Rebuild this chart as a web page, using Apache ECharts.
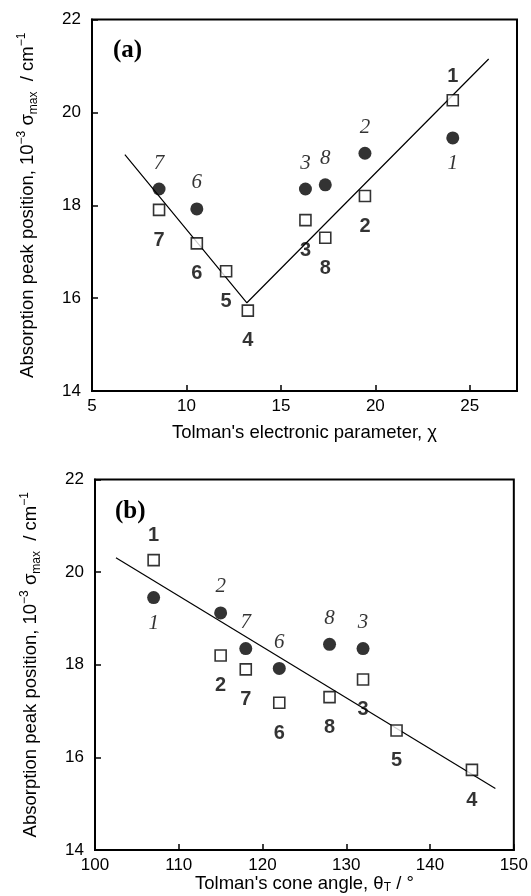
<!DOCTYPE html>
<html>
<head>
<meta charset="utf-8">
<script src="https://cdn.jsdelivr.net/npm/echarts@6/dist/echarts.min.js"></script>
<style>
    html, body {margin: 0; padding: 0; background: #fff;}
    #chart {width: 531px; height: 896px;}
</style>
</head>
<body>
<div id="chart"></div>
<script>
// complex numbers 1..8
var ids = ['1', '2', '3', '4', '5', '6', '7', '8'];
// Tolman's electronic parameter (chi) and cone angle (deg)
var chi = [24.1, 19.45, 16.3, 13.25, 12.1, 10.55, 8.55, 17.35];
var cone = [107, 115, 132, 145, 136, 122, 118, 128];
// absorption peak positions, 10^-3 sigma_max / cm-1
var squareY = [20.26, 18.2, 17.68, 15.73, 16.58, 17.18, 17.9, 17.3];
var circleY = [19.45, 19.12, 18.35, null, null, 17.92, 18.35, 18.44];
// fitted lines
var fitA = [[6.74, 19.09], [13.2, 15.9], [26.0, 21.15]];
var fitB = [[102.5, 20.31], [147.8, 15.33]];

var sans = 'Liberation Sans';
var serif = 'Liberation Serif';

// compound 1 has its labels flipped (square above, circle below)
function points(xs, ys, flipped) {
    var out = [];
    for (var i = 0; i < ids.length; i++) {
        if (ys[i] === null) continue;
        var item = {name: ids[i], value: [xs[i], ys[i]]};
        if (ids[i] === '1') item.label = flipped;
        out.push(item);
    }
    return out;
}

var yName = 'Absorption peak position, 10{sup|\u22123} \u03c3{sub|max}  / cm{sup|\u22121}';
var nameRich = {
    sup: {fontSize: 12, fontFamily: sans, color: '#000', verticalAlign: 'top', lineHeight: 12},
    sub: {fontSize: 12, fontFamily: sans, color: '#000', verticalAlign: 'bottom', lineHeight: 12}
};

function yAxis(idx) {
    return {
        type: 'value', gridIndex: idx, min: 14, max: 22, interval: 2,
        name: yName, nameLocation: 'middle', nameGap: 52, nameRotate: 90,
        nameTextStyle: {fontFamily: sans, fontSize: 18.5, color: '#000', lineHeight: 24, rich: nameRich},
        axisLine: {show: true, lineStyle: {color: '#000', width: 2}},
        axisTick: {inside: true, length: 6, lineStyle: {color: '#000', width: 1.5}},
        axisLabel: {fontFamily: sans, fontSize: 17, color: '#000', margin: 11},
        splitLine: {show: false}
    };
}

function xAxis(idx, min, max, interval, name, gap) {
    return {
        type: 'value', gridIndex: idx, min: min, max: max, interval: interval,
        name: name, nameLocation: 'middle', nameGap: gap,
        nameTextStyle: {fontFamily: sans, fontSize: 18.5, color: '#000', rich: nameRich},
        axisLine: {show: true, lineStyle: {color: '#000', width: 2}},
        axisTick: {inside: true, length: 6, lineStyle: {color: '#000', width: 1.5}},
        axisLabel: {
            fontFamily: sans, fontSize: 17, color: '#000', margin: 7,
            formatter: function (v) { return v % interval === 0 ? v : ''; }
        },
        splitLine: {show: false}
    };
}

function seriesFor(idx, xs, fit) {
    return [
        {
            type: 'line', xAxisIndex: idx, yAxisIndex: idx, data: fit,
            symbol: 'none', silent: true, z: 1,
            lineStyle: {color: '#000', width: 1.2}
        },
        {
            type: 'scatter', xAxisIndex: idx, yAxisIndex: idx,
            data: points(xs, circleY, {position: 'bottom', distance: 9}),
            symbol: 'circle', symbolSize: 13, z: 2,
            itemStyle: {color: '#000'},
            label: {
                show: true, position: 'top', distance: 9, formatter: '{b}',
                fontFamily: serif, fontStyle: 'italic', fontSize: 21, color: '#000'
            }
        },
        {
            type: 'scatter', xAxisIndex: idx, yAxisIndex: idx,
            data: points(xs, squareY, {position: 'top', distance: 8}),
            symbol: 'rect', symbolSize: 11, z: 3,
            itemStyle: {color: '#fff', borderColor: '#000', borderWidth: 1.6},
            label: {
                show: true, position: 'bottom', distance: 14, formatter: '{b}',
                fontFamily: sans, fontWeight: 'bold', fontSize: 20, color: '#000'
            }
        }
    ];
}

var chart = echarts.init(document.getElementById('chart'));
chart.setOption({
    animation: false,
    backgroundColor: '#fff',
    grid: [
        {left: 92, top: 19.5, right: 14, height: 371.5, show: true, borderColor: '#000', borderWidth: 2},
        {left: 95, top: 479.5, right: 13, height: 370.5, show: true, borderColor: '#000', borderWidth: 2}
    ],
    xAxis: [
        xAxis(0, 5, 27.5, 5, "Tolman's electronic parameter, \u03c7", 32),
        xAxis(1, 100, 150, 10, "Tolman's cone angle, \u03b8{sub|T} / \u00b0", 23)
    ],
    yAxis: [yAxis(0), yAxis(1)],
    graphic: [
        {type: 'text', left: 113, top: 38, style: {text: '(a)', font: 'bold 25px "Liberation Serif"', fill: '#000'}},
        {type: 'text', left: 115, top: 499, style: {text: '(b)', font: 'bold 25px "Liberation Serif"', fill: '#000'}}
    ],
    series: seriesFor(0, chi, fitA).concat(seriesFor(1, cone, fitB))
});
</script>
</body>
</html>
